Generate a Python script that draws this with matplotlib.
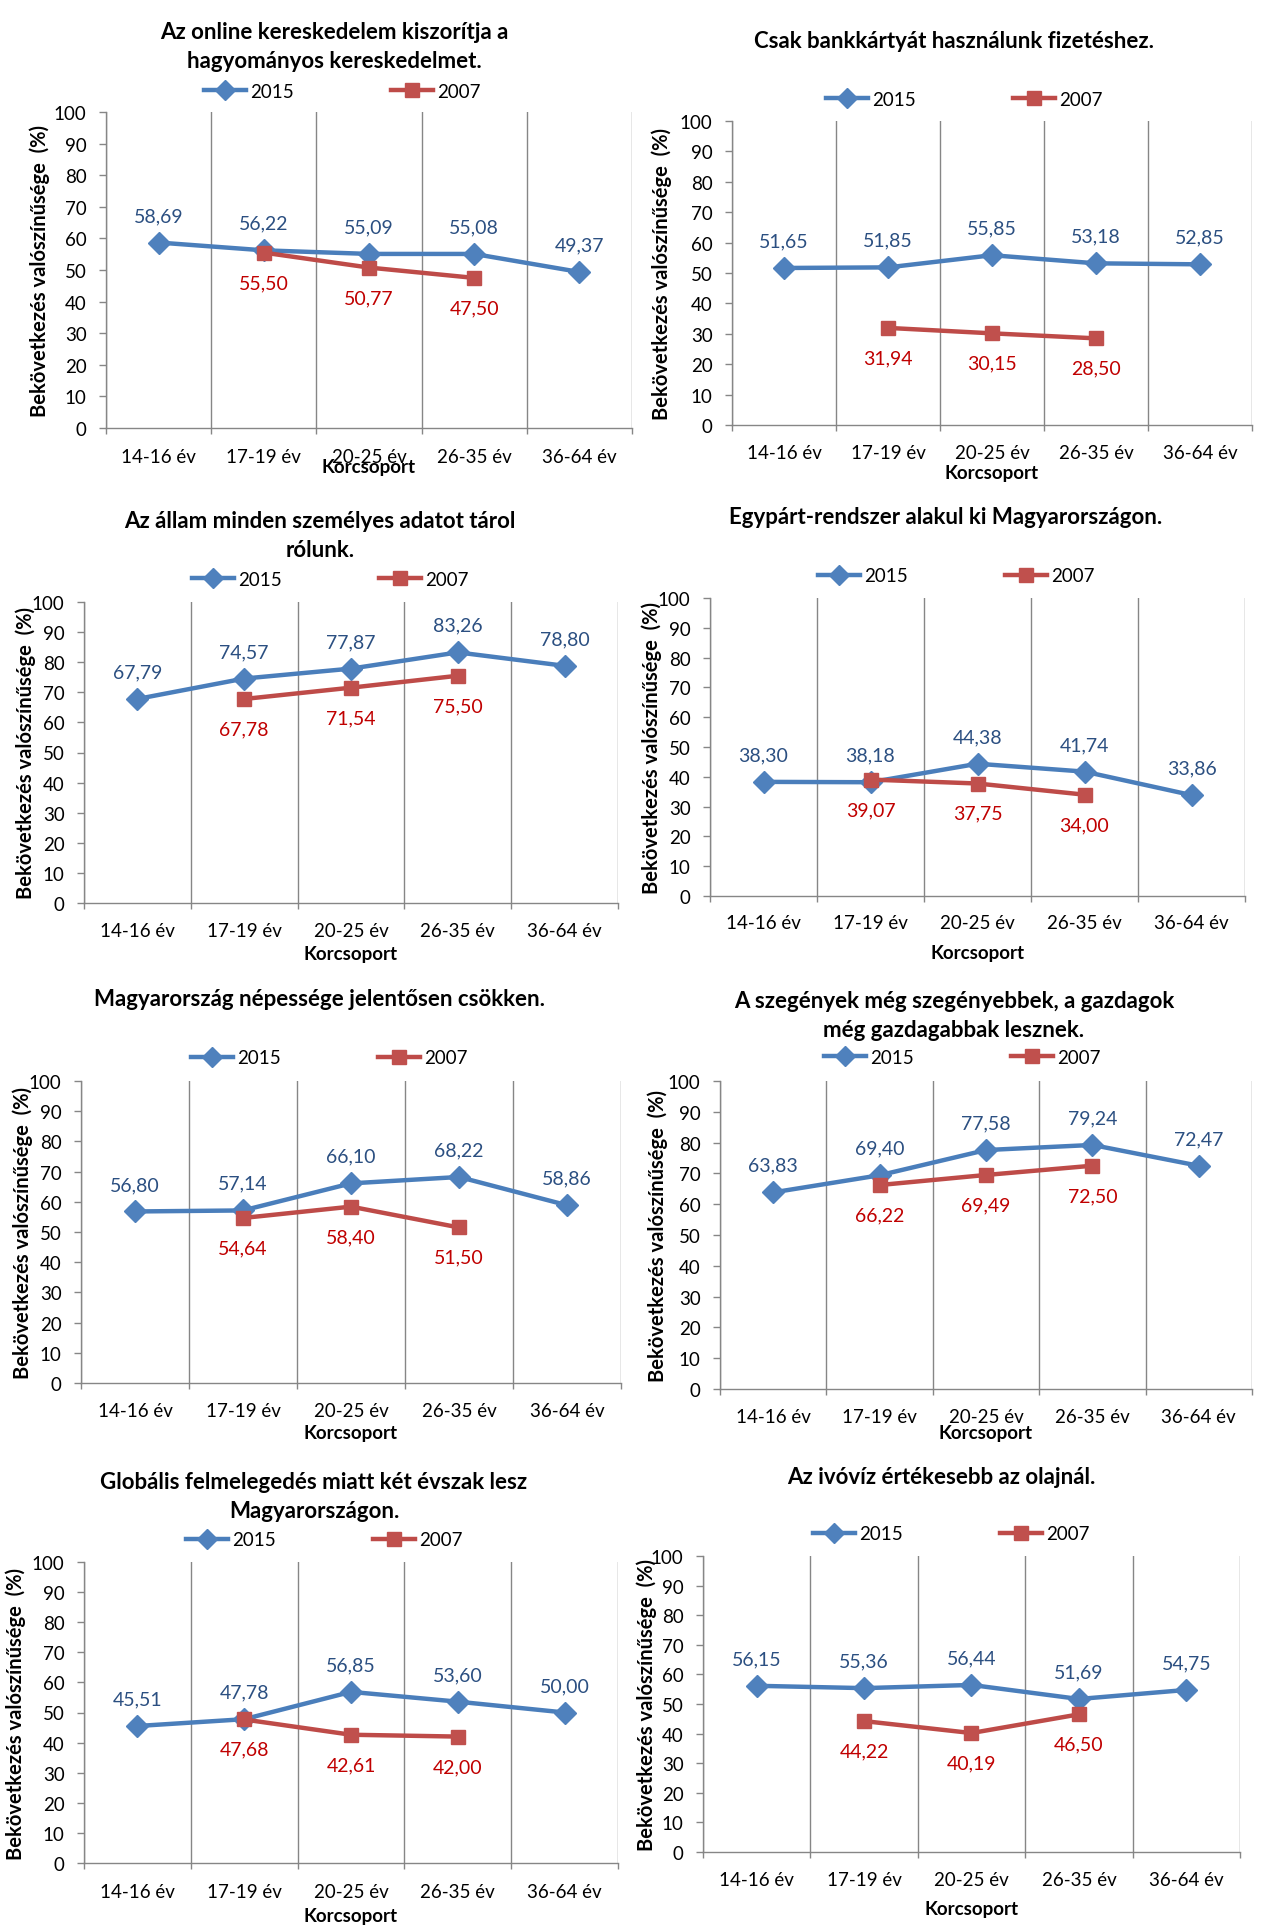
import matplotlib.pyplot as plt
import numpy as np

plt.rcParams['font.family'] = ['Lato', 'DejaVu Sans']

# kategoriak
categories = ['14-16 év', '17-19 év', '20-25 év', '26-35 év', '36-64 év']
yticks = [0, 10, 20, 30, 40, 50, 60, 70, 80, 90, 100]

# adatok (nan = nincs adat)
online_2015 = [58.69, 56.22, 55.09, 55.08, 49.37]
online_2007 = [np.nan, 55.50, 50.77, 47.50, np.nan]
bank_2015 = [51.65, 51.85, 55.85, 53.18, 52.85]
bank_2007 = [np.nan, 31.94, 30.15, 28.50, np.nan]
allam_2015 = [67.79, 74.57, 77.87, 83.26, 78.80]
allam_2007 = [np.nan, 67.78, 71.54, 75.50, np.nan]
egypart_2015 = [38.30, 38.18, 44.38, 41.74, 33.86]
egypart_2007 = [np.nan, 39.07, 37.75, 34.00, np.nan]
nepesseg_2015 = [56.80, 57.14, 66.10, 68.22, 58.86]
nepesseg_2007 = [np.nan, 54.64, 58.40, 51.50, np.nan]
szegeny_2015 = [63.83, 69.40, 77.58, 79.24, 72.47]
szegeny_2007 = [np.nan, 66.22, 69.49, 72.50, np.nan]
globalis_2015 = [45.51, 47.78, 56.85, 53.60, 50.00]
globalis_2007 = [np.nan, 47.68, 42.61, 42.00, np.nan]
ivoviz_2015 = [56.15, 55.36, 56.44, 51.69, 54.75]
ivoviz_2007 = [np.nan, 44.22, 40.19, 46.50, np.nan]

titles = ['Az online kereskedelem kiszorítja a\nhagyományos kereskedelmet.',
          'Csak bankkártyát használunk fizetéshez.',
          'Az állam minden személyes adatot tárol\nrólunk.',
          'Egypárt-rendszer alakul ki Magyarországon.',
          'Magyarország népessége jelentősen csökken.',
          'A szegények még szegényebbek, a gazdagok\nmég gazdagabbak lesznek.',
          'Globális felmelegedés miatt két évszak lesz\nMagyarországon.',
          'Az ivóvíz értékesebb az olajnál.']
series_2015 = [online_2015, bank_2015, allam_2015, egypart_2015,
               nepesseg_2015, szegeny_2015, globalis_2015, ivoviz_2015]
series_2007 = [online_2007, bank_2007, allam_2007, egypart_2007,
               nepesseg_2007, szegeny_2007, globalis_2007, ivoviz_2007]

# elrendezes pixelben: plot terulet (bal, jobb, felso, also), cim x/y, legenda x/y,
# tick felirat y, Korcsoport y, tengelycim x
layout = [
    (106, 632, 113, 429, 334, 47, 204, 92, 457, 467, 40),
    (732, 1252, 122, 426, 954, 42, 826, 100, 453, 473, 662),
    (84, 618, 603, 904, 320, 536, 192, 580, 931, 955, 26),
    (710, 1245, 599, 897, 946, 518, 818, 577, 923, 953, 652),
    (81, 621, 1082, 1384, 320, 1000, 191, 1059, 1411, 1433, 23),
    (720, 1252, 1082, 1390, 954, 1016, 824, 1058, 1417, 1433, 658),
    (84, 618, 1563, 1864, 314, 1497, 186, 1541, 1892, 1917, 16),
    (703, 1240, 1557, 1853, 941, 1477, 813, 1535, 1880, 1910, 647),
]

W, H = 1264, 1931
fig = plt.figure(figsize=(W / 100, H / 100), dpi=100)

blue = '#4A7EBB'
blue_m = '#4F81BD'
red = '#BE4B48'
red_m = '#C0504D'
blue_txt = '#2B4F81'
red_txt = '#C00000'
grey = '#868686'

x = np.arange(len(categories)) + 0.5

for i in range(8):
    L, R, T, B, tx, ty, lx, ly, tly, xly, ylx = layout[i]
    ax = fig.add_axes([L / W, 1 - B / H, (R - L) / W, (B - T) / H])
    ax.set_xlim(0, 5)
    ax.set_ylim(0, 100)

    l1, = ax.plot(x, series_2015[i], color=blue, lw=3.2, marker='D', ms=11,
                  mfc=blue_m, mec=blue_m, label='2015', zorder=3)
    l2, = ax.plot(x, series_2007[i], color=red, lw=3.2, marker='s', ms=10.5,
                  mfc=red_m, mec=red_m, label='2007', zorder=4)

    for xi, v in zip(x, series_2015[i]):
        ax.annotate(f'{v:.2f}'.replace('.', ','), (xi, v), xytext=(0, 19.5),
                    textcoords='offset points', ha='center', va='center',
                    color=blue_txt, fontsize=14)
    for xi, v in zip(x, series_2007[i]):
        if np.isnan(v):
            continue
        ax.annotate(f'{v:.2f}'.replace('.', ','), (xi, v), xytext=(0, -21.5),
                    textcoords='offset points', ha='center', va='center',
                    color=red_txt, fontsize=14)

    # racs es tengelyek
    ax.set_xticks([0, 1, 2, 3, 4, 5])
    ax.set_xticklabels([])
    ax.set_xticks(x, minor=True)
    ax.set_xticklabels(categories, minor=True)
    ax.xaxis.grid(True, which='major', color=grey, lw=1)
    ax.tick_params(axis='x', which='major', length=4.5, color=grey, width=1)
    ax.tick_params(axis='x', which='minor', length=0, labelsize=13.5,
                   pad=(tly - B - 8) / 1.389)
    ax.set_yticks(yticks)
    ax.tick_params(axis='y', length=5, color=grey, width=1, labelsize=13.5, pad=9)
    for s in ['top', 'right']:
        ax.spines[s].set_visible(False)
    for s in ['left', 'bottom']:
        ax.spines[s].set_color(grey)
        ax.spines[s].set_linewidth(1)

    ax.set_xlabel('Korcsoport', fontsize=13.5, fontweight='bold', va='center')
    ax.xaxis.set_label_coords(0.5, -(xly - B) / (B - T))
    ax.set_ylabel('Bekövetkezés valószínűsége  (%)', fontsize=14.5,
                  fontweight='bold', va='center')
    ax.yaxis.set_label_coords(-(L - ylx) / (R - L), 0.5)

    fig.text(tx / W, 1 - ty / H, titles[i], ha='center', va='center',
             fontsize=16, fontweight='bold', linespacing=1.45)

    ax.legend(handles=[l1, l2], ncol=2, loc='center left',
              bbox_to_anchor=(lx / W, 1 - ly / H), bbox_transform=fig.transFigure,
              frameon=False, fontsize=13.5, borderpad=0, borderaxespad=0,
              handlelength=2.25, handletextpad=0.2, columnspacing=5.2,
              markerscale=0.9)

fig.savefig('out.png', dpi=100)
